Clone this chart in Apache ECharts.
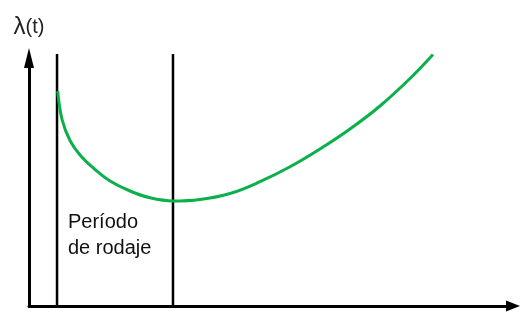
<!DOCTYPE html>
<html>
<head>
<meta charset="utf-8">
<script src="https://cdn.jsdelivr.net/npm/echarts@6/dist/echarts.min.js"></script>
<style>
  html, body { margin: 0; padding: 0; background: #fff; }
  #chart { width: 522px; height: 324px; }
</style>
</head>
<body>
<div id="chart"></div>
<script>
// curva de la tasa de fallos (bañera)
const tValues = [5.93, 6.82, 8.47, 10.54, 13.64, 16.74, 20.87, 25.0, 29.75, 35.33, 41.53, 47.73, 53.93, 60.12, 66.32, 72.52, 78.72, 83.47];
const lambdaValues = [86.69, 75.28, 66.73, 60.89, 55.04, 50.4, 46.37, 43.63, 42.34, 42.94, 45.36, 50.12, 56.13, 63.31, 71.37, 80.65, 91.73, 101.41];
// límites verticales del periodo de rodaje
const dividerT = [5.79, 29.75];
const dividerTop = 101.6;
const periodLabel = ["Período", "de rodaje"];

const chart = echarts.init(document.getElementById("chart"));

const curveData = tValues.map((t, i) => [t, lambdaValues[i]]);

const dividerSeries = dividerT.map((t) => ({
  type: "line",
  data: [[t, 0], [t, dividerTop]],
  symbol: "none",
  clip: false,
  silent: true,
  lineStyle: { color: "#000", width: 2.5 },
  z: 3,
}));

chart.setOption({
  animation: false,
  backgroundColor: "#fff",
  grid: { left: 29, right: 9, top: 58, bottom: 18 },
  xAxis: {
    type: "value",
    min: 0,
    max: 100,
    axisLine: {
      show: true,
      symbol: ["none", "triangle"],
      symbolSize: [11, 14],
      lineStyle: { color: "#000", width: 3 },
    },
    axisTick: { show: false },
    axisLabel: { show: false },
    splitLine: { show: false },
  },
  yAxis: {
    type: "value",
    min: 0,
    max: 100,
    name: "{lam|λ}{arg|(t)}",
    nameLocation: "end",
    nameGap: 19,
    nameTextStyle: {
      fontFamily: "Liberation Sans",
      fontSize: 20,
      color: "#222",
      rich: {
        lam: { fontSize: 24, fontFamily: "Liberation Sans", color: "#222" },
        arg: { fontSize: 20, fontFamily: "Liberation Sans", color: "#222" },
      },
    },
    axisLine: {
      show: true,
      symbol: ["none", "triangle"],
      symbolSize: [10, 20],
      lineStyle: { color: "#000", width: 3 },
    },
    axisTick: { show: false },
    axisLabel: { show: false },
    splitLine: { show: false },
  },
  graphic: [
    {
      type: "text",
      left: 68,
      top: 209,
      style: {
        text: periodLabel.join("\n"),
        font: "20px 'Liberation Sans'",
        lineHeight: 26,
        fill: "#111",
      },
    },
  ],
  series: [
    ...dividerSeries,
    {
      type: "line",
      data: curveData,
      symbol: "none",
      smooth: 0.4,
      clip: false,
      lineStyle: { color: "#0bb04b", width: 3 },
      z: 4,
    },
  ],
});
</script>
</body>
</html>
